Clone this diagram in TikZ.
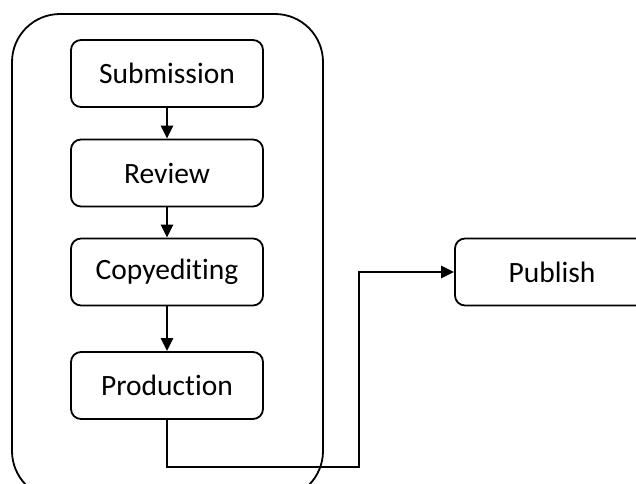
\documentclass[tikz,border=0pt]{standalone}
\usepackage{fontspec}
\setmainfont[Ligatures=NoCommon]{Carlito}
\usetikzlibrary{arrows.meta,positioning}

\begin{document}
\begin{tikzpicture}[x=1pt,y=-1pt,
    font=\fontsize{29.5}{34}\selectfont,
    stage/.style={draw,line width=1.8pt,rounded corners=10pt,
                  minimum width=192pt,minimum height=67pt,inner sep=0pt},
    flow/.style={line width=2.4pt,-{Triangle[length=13pt,width=12pt]}}]
  \useasboundingbox (0,0) rectangle (636,483);
  \clip (0,0) rectangle (636,483);
  % outer frame
  \node[draw,line width=1.8pt,rounded corners=48pt,minimum width=311pt,
        minimum height=485pt,inner sep=0pt] (press) at (167.5,256.5) {};
  % steps
  \node[stage] (sub)  at (167,73.5)  {Submission};
  \node[stage] (rev)  at (167,173)   {Review};
  \node[stage] (copy) at (167,272)   {Copyediting};
  \node[stage] (prod) at (167,385.5) {Production};
  \node[stage,minimum width=194pt] (pub) at (552,272) {Publish};
  \coordinate (bend) at (359,467);
  % connectors
  \draw[flow] (sub) -- (rev);
  \draw[flow] (rev) -- (copy);
  \draw[flow] (copy) -- (prod);
  \draw[flow] (prod.south) |- (bend) |- (pub.west);
\end{tikzpicture}
\end{document}
